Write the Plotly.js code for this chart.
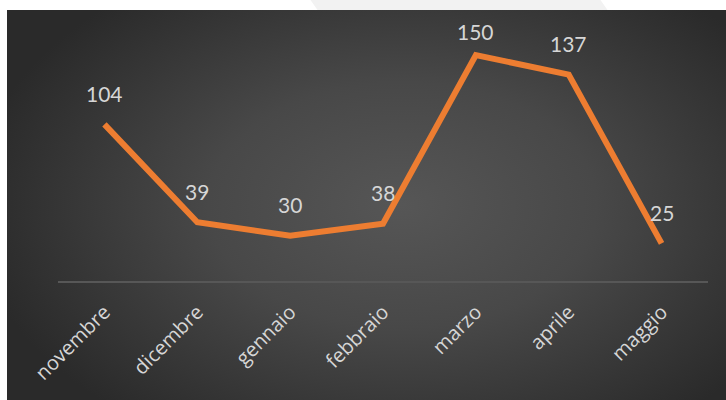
<!DOCTYPE html>
<html>
<head>
<meta charset="utf-8">
<script src="https://cdn.plot.ly/plotly-3.0.1.min.js"></script>
<style>
  html, body { margin: 0; padding: 0; background: #ffffff; overflow: hidden; }
  #wrap { position: relative; width: 726px; height: 400px; }
  #bg { position: absolute; left: 7px; top: 10px; width: 719px; height: 390px;
        background: radial-gradient(ellipse 60% 70% at 55% 50%, #565656 0%, #484848 45%, #2a2a2a 100%); }
  .deco1 { position: absolute; left: 300px; top: -40px; width: 290px; height: 50px;
           background: #f2f2f2; transform: skewX(35deg); }
  #chart { position: absolute; left: 0; top: 0; width: 726px; height: 400px; }
</style>
</head>
<body>
<div id="wrap">
  <div class="deco1"></div>
  <div id="bg"></div>
  <div id="chart"></div>
</div>
<script>
const categories = ["novembre", "dicembre", "gennaio", "febbraio", "marzo", "aprile", "maggio"];
const values = [104, 39, 30, 38, 150, 137, 25];

const labelFont = { family: "Lato, 'Open Sans', sans-serif", size: 21, color: "#d6d6d6" };
const maxVal = Math.max.apply(null, values);

const annotations = categories.map(function (c, i) {
  return {
    x: c, y: values[i], xref: "x", yref: "y",
    text: String(values[i]), showarrow: false,
    yanchor: "middle", xanchor: "center",
    yshift: values[i] === maxVal ? 24 : 31,
    font: labelFont
  };
});

const trace = {
  type: "scatter", mode: "lines",
  x: categories, y: values,
  line: { color: "#ED7D31", width: 6, shape: "linear" },
  hoverinfo: "none", cliponaxis: false
};

const layout = {
  width: 726, height: 400,
  margin: { l: 57.5, r: 17.5, t: 40, b: 119 },
  paper_bgcolor: "rgba(0,0,0,0)",
  plot_bgcolor: "rgba(0,0,0,0)",
  showlegend: false,
  xaxis: {
    type: "category", range: [-0.5, 6.5],
    showgrid: false, zeroline: false,
    showline: true, linecolor: "#575757", linewidth: 1.5,
    ticks: "outside", ticklen: 10, tickcolor: "rgba(0,0,0,0)",
    tickangle: -45,
    tickfont: { family: "'Open Sans', Lato, sans-serif", size: 20, color: "#d6d6d6" },
    fixedrange: true
  },
  yaxis: {
    range: [0, 160], visible: false, showgrid: false, zeroline: false, fixedrange: true
  },
  annotations: annotations
};

Plotly.newPlot("chart", [trace], layout, { displayModeBar: false, staticPlot: true });
</script>
</body>
</html>
